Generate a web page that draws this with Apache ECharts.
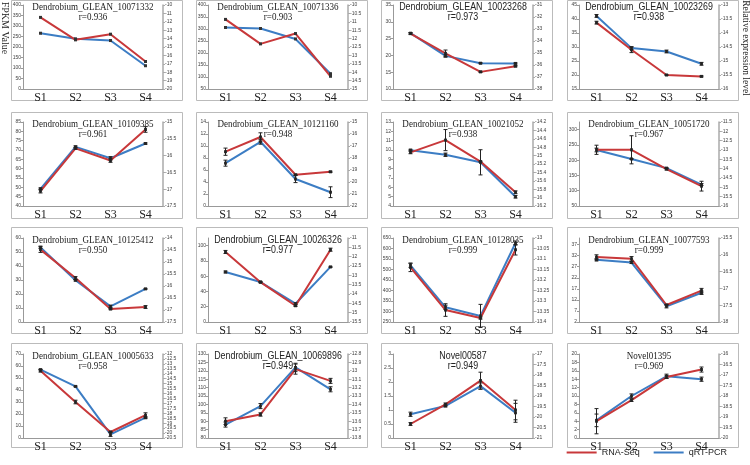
<!DOCTYPE html>
<html>
<head>
<meta charset="utf-8">
<script src="https://cdn.jsdelivr.net/npm/echarts@6.0.0/dist/echarts.min.js"></script>
<style>
html, body { margin: 0; padding: 0; background: #fff; }
#chart { width: 750px; height: 465px; }
</style>
</head>
<body>
<div id="chart"></div>
<script>
// categories
var stages = ['S1', 'S2', 'S3', 'S4'];

// panel titles and correlation
var titles = [
    'Dendrobium_GLEAN_10071332', 'Dendrobium_GLEAN_10071336', 'Dendrobium_GLEAN_10023268', 'Dendrobium_GLEAN_10023269',
    'Dendrobium_GLEAN_10109385', 'Dendrobium_GLEAN_10121160', 'Dendrobium_GLEAN_10021052', 'Dendrobium_GLEAN_10051720',
    'Dendrobium_GLEAN_10125412', 'Dendrobium_GLEAN_10026326', 'Dendrobium_GLEAN_10128035', 'Dendrobium_GLEAN_10077593',
    'Dendrobium_GLEAN_10005633', 'Dendrobium_GLEAN_10069896', 'Novel00587', 'Novel01395'
];
var rValues = ['0.936', '0.903', '0.973', '0.938', '0.961', '0.948', '0.938', '0.967',
               '0.950', '0.977', '0.999', '0.999', '0.958', '0.949', '0.949', '0.969'];
var titleSans = [false, false, true, true, false, false, false, false,
                 false, true, false, false, false, true, true, false];

// left axis (FPKM) [min, max, interval]
var fpkmAxis = [
    [0, 400, 50], [50, 400, 50], [10, 35, 5], [15, 45, 5],
    [40, 85, 5], [0, 14, 2], [4, 13, 1], [50, 325, 50],
    [0, 60, 10], [0, 110, 20], [250, 650, 50], [2, 40, 5],
    [0, 70, 10], [80, 130, 5], [0, 3, 0.5], [0, 20, 2]
];
// right axis (relative expression) [min, max, interval]
var relAxis = [
    [-20, -10, 1], [-15, -10, 0.5], [-38, -31, 1], [-16, -13, 0.5],
    [-17.5, -15, 0.5], [-22, -15, 1], [-16.2, -14.2, 0.2], [-16, -11.5, 0.5],
    [-17.5, -14, 0.5], [-15.5, -11, 0.5], [-13.4, -13, 0.05], [-18, -15.5, 0.5],
    [-20.5, -12, 0.5], [-13.8, -12.8, 0.1], [-21, -17, 0.5], [-20, -16, 0.5]
];

// RNA-Seq FPKM values
var rnaSeq = [
    [341, 234, 261, 131], [340, 238, 281, 103], [26.5, 20.6, 15.1, 16.8], [38.7, 29.0, 20.0, 19.5],
    [48, 70.9, 64.4, 81], [9.05, 11.5, 5.2, 5.7], [9.75, 11.06, 8.76, 5.47], [234, 234, 171, 115],
    [51.7, 31.4, 9.3, 10.7], [91.7, 52.2, 21.3, 94.7], [510, 307, 269, 594], [31.4, 30.6, 9.7, 16.2],
    [56, 30, 5, 19], [90, 94, 121, 114], [0.5, 1.2, 2.05, 1.0], [4, 9, 14.5, 16.3]
];
var rnaErr = [
    [0, 0, 0, 0], [0, 0, 0, 0], [0.3, 1, 0.2, 0.2], [0.5, 1, 0.2, 0.2],
    [1, 0.5, 1, 1.5], [0.6, 0.7, 0.1, 0.1], [0.15, 1.13, 0.05, 0.15], [15, 46, 3, 16],
    [2, 1, 0.5, 1], [2, 1, 1, 2], [20, 30, 5, 25], [1, 1, 0.3, 1],
    [1, 1.5, 0.5, 2], [2, 1, 3, 1.5], [0.05, 0.05, 0.3, 0.35], [3, 0.3, 0.3, 0.6]
];

// qRT-PCR relative expression values
var qpcr = [
    [-13.36, -14.03, -14.23, -17.23], [-11.34, -11.40, -12.02, -14.09], [-33.35, -35.24, -35.85, -35.87], [-13.39, -14.54, -14.66, -15.10],
    [-16.99, -15.74, -16.08, -15.64], [-18.43, -16.65, -19.75, -20.85], [-14.87, -14.98, -15.16, -15.98], [-13.0, -13.48, -13.97, -14.85],
    [-14.39, -15.76, -16.85, -16.12], [-12.82, -13.36, -14.52, -12.55], [-13.13, -13.33, -13.371, -13.024], [-16.15, -16.23, -17.53, -17.13],
    [-13.58, -15.28, -20.14, -18.44], [-13.64, -13.42, -12.96, -13.22], [-19.87, -19.47, -18.53, -19.8], [-19.16, -18, -17.06, -17.2]
];
var qpcrErr = [
    [0, 0, 0, 0], [0, 0, 0, 0], [0.05, 0.1, 0.05, 0.05], [0.05, 0.05, 0.05, 0.05],
    [0.03, 0.03, 0.05, 0.02], [0.25, 0.2, 0.3, 0.45], [0.02, 0.04, 0.3, 0.03], [0.1, 0.02, 0.02, 0.05],
    [0.05, 0.03, 0.05, 0.02], [0.05, 0.02, 0.05, 0.03], [0.01, 0.01, 0.055, 0.01], [0.03, 0.03, 0.05, 0.05],
    [0.05, 0.05, 0.2, 0.1], [0.03, 0.03, 0.05, 0.03], [0.1, 0.05, 0.15, 0.45], [0.3, 0.1, 0.1, 0.1]
];

var colX = [11, 196, 381, 567];
var boxTop = [0, 112, 227, 343];
var boxH = [100, 106, 106, 104];
var plotTop = [5, 122, 238, 354];
var plotH = 84;

var red = '#c8383a';
var blue = '#3c7dc4';

function errorBar(params, api) {
    var x = api.value(0), v = api.value(1), e = api.value(2);
    if (!e) return;
    var hi = api.coord([x, v + e]);
    var lo = api.coord([x, v - e]);
    var st = { stroke: '#222', lineWidth: 1 };
    return {
        type: 'group',
        children: [
            { type: 'line', shape: { x1: hi[0], y1: hi[1], x2: lo[0], y2: lo[1] }, style: st },
            { type: 'line', shape: { x1: hi[0] - 2, y1: hi[1], x2: hi[0] + 2, y2: hi[1] }, style: st },
            { type: 'line', shape: { x1: lo[0] - 2, y1: lo[1], x2: lo[0] + 2, y2: lo[1] }, style: st }
        ]
    };
}

var grids = [], xAxes = [], yAxes = [], series = [], graphics = [];

for (var i = 0; i < 16; i++) {
    var r = Math.floor(i / 4), c = i % 4;
    var left = colX[c] + 12;
    grids.push({ left: left, top: plotTop[r], width: 140, height: plotH });
    xAxes.push({
        type: 'category', gridIndex: i, data: stages, boundaryGap: true,
        axisLine: { lineStyle: { color: '#999', width: 1 } },
        axisTick: { show: false },
        axisLabel: { fontFamily: 'Liberation Serif', fontSize: 12, color: '#222', margin: 3 }
    });
    yAxes.push({
        type: 'value', gridIndex: i, position: 'left',
        min: fpkmAxis[i][0], max: fpkmAxis[i][1], interval: fpkmAxis[i][2],
        splitLine: { show: false },
        axisLine: { show: true, lineStyle: { color: '#999', width: 1 } },
        axisTick: { show: true, length: 2, lineStyle: { color: '#999' } },
        axisLabel: { fontSize: 5, color: '#444', margin: 2, showMaxLabel: (fpkmAxis[i][1] - fpkmAxis[i][0]) % fpkmAxis[i][2] === 0 }
    });
    yAxes.push({
        type: 'value', gridIndex: i, position: 'right',
        min: relAxis[i][0], max: relAxis[i][1], interval: relAxis[i][2],
        splitLine: { show: false },
        axisLine: { show: true, lineStyle: { color: '#aaa', width: 1.5 } },
        axisTick: { show: true, length: 2, lineStyle: { color: '#aaa' } },
        axisLabel: { fontSize: 5, color: '#444', margin: 2 }
    });

    series.push({
        name: 'qRT-PCR', type: 'line', xAxisIndex: i, yAxisIndex: 2 * i + 1,
        data: qpcr[i], symbol: 'rect', symbolSize: 3,
        itemStyle: { color: '#333' }, lineStyle: { color: blue, width: 2 }, z: 3
    });
    series.push({
        name: 'RNA-Seq', type: 'line', xAxisIndex: i, yAxisIndex: 2 * i,
        data: rnaSeq[i], symbol: 'rect', symbolSize: 3,
        itemStyle: { color: '#333' }, lineStyle: { color: red, width: 2 }, z: 3
    });

    var eRna = [], eQ = [];
    for (var k = 0; k < 4; k++) {
        eRna.push([k, rnaSeq[i][k], rnaErr[i][k]]);
        eQ.push([k, qpcr[i][k], qpcrErr[i][k]]);
    }
    series.push({ type: 'custom', xAxisIndex: i, yAxisIndex: 2 * i, data: eRna, renderItem: errorBar, z: 4, silent: true });
    series.push({ type: 'custom', xAxisIndex: i, yAxisIndex: 2 * i + 1, data: eQ, renderItem: errorBar, z: 4, silent: true });

    // panel frame
    graphics.push({
        type: 'rect', shape: { x: colX[c] + 0.5, y: boxTop[r] + 0.5, width: 171, height: boxH[r] },
        style: { fill: null, stroke: '#bbb', lineWidth: 1 }, z: 0
    });
    // panel title
    var fam = titleSans[i] ? 'Liberation Sans' : 'Liberation Serif';
    var fs = titleSans[i] ? 10.2 : 11;
    var sx = titleSans[i] ? 0.87 : 0.82;
    graphics.push({
        type: 'text', x: left + 70, y: plotTop[r] + 2.5, scaleX: sx, z: 10,
        style: { text: titles[i], fontFamily: fam, fontSize: fs, fill: '#222', align: 'center', verticalAlign: 'middle' }
    });
    graphics.push({
        type: 'text', x: left + 70, y: plotTop[r] + 12, scaleX: sx, z: 10,
        style: { text: 'r=' + rValues[i], fontFamily: fam, fontSize: fs, fill: '#222', align: 'center', verticalAlign: 'middle' }
    });
}

graphics.push({
    type: 'text', x: 5, y: 28, rotation: -Math.PI / 2,
    style: { text: 'FPKM Value', fontFamily: 'Liberation Serif', fontSize: 10, fill: '#222', align: 'center', verticalAlign: 'middle' }
});
graphics.push({
    type: 'text', x: 745, y: 48, rotation: -Math.PI / 2,
    style: { text: 'Relative expression level', fontFamily: 'Liberation Serif', fontSize: 9.5, fill: '#222', align: 'center', verticalAlign: 'middle' }
});

var myChart = echarts.init(document.getElementById('chart'));
var option = {
    animation: false,
    backgroundColor: '#fff',
    legend: {
        right: 18, bottom: 3,
        itemWidth: 30, itemHeight: 2, itemGap: 14,
        icon: 'rect',
        textStyle: { fontFamily: 'Liberation Sans', fontSize: 9, color: '#222' },
        data: [
            { name: 'RNA-Seq', itemStyle: { color: red } },
            { name: 'qRT-PCR', itemStyle: { color: blue } }
        ]
    },
    grid: grids,
    xAxis: xAxes,
    yAxis: yAxes,
    series: series,
    graphic: graphics
};
myChart.setOption(option);
</script>
</body>
</html>
